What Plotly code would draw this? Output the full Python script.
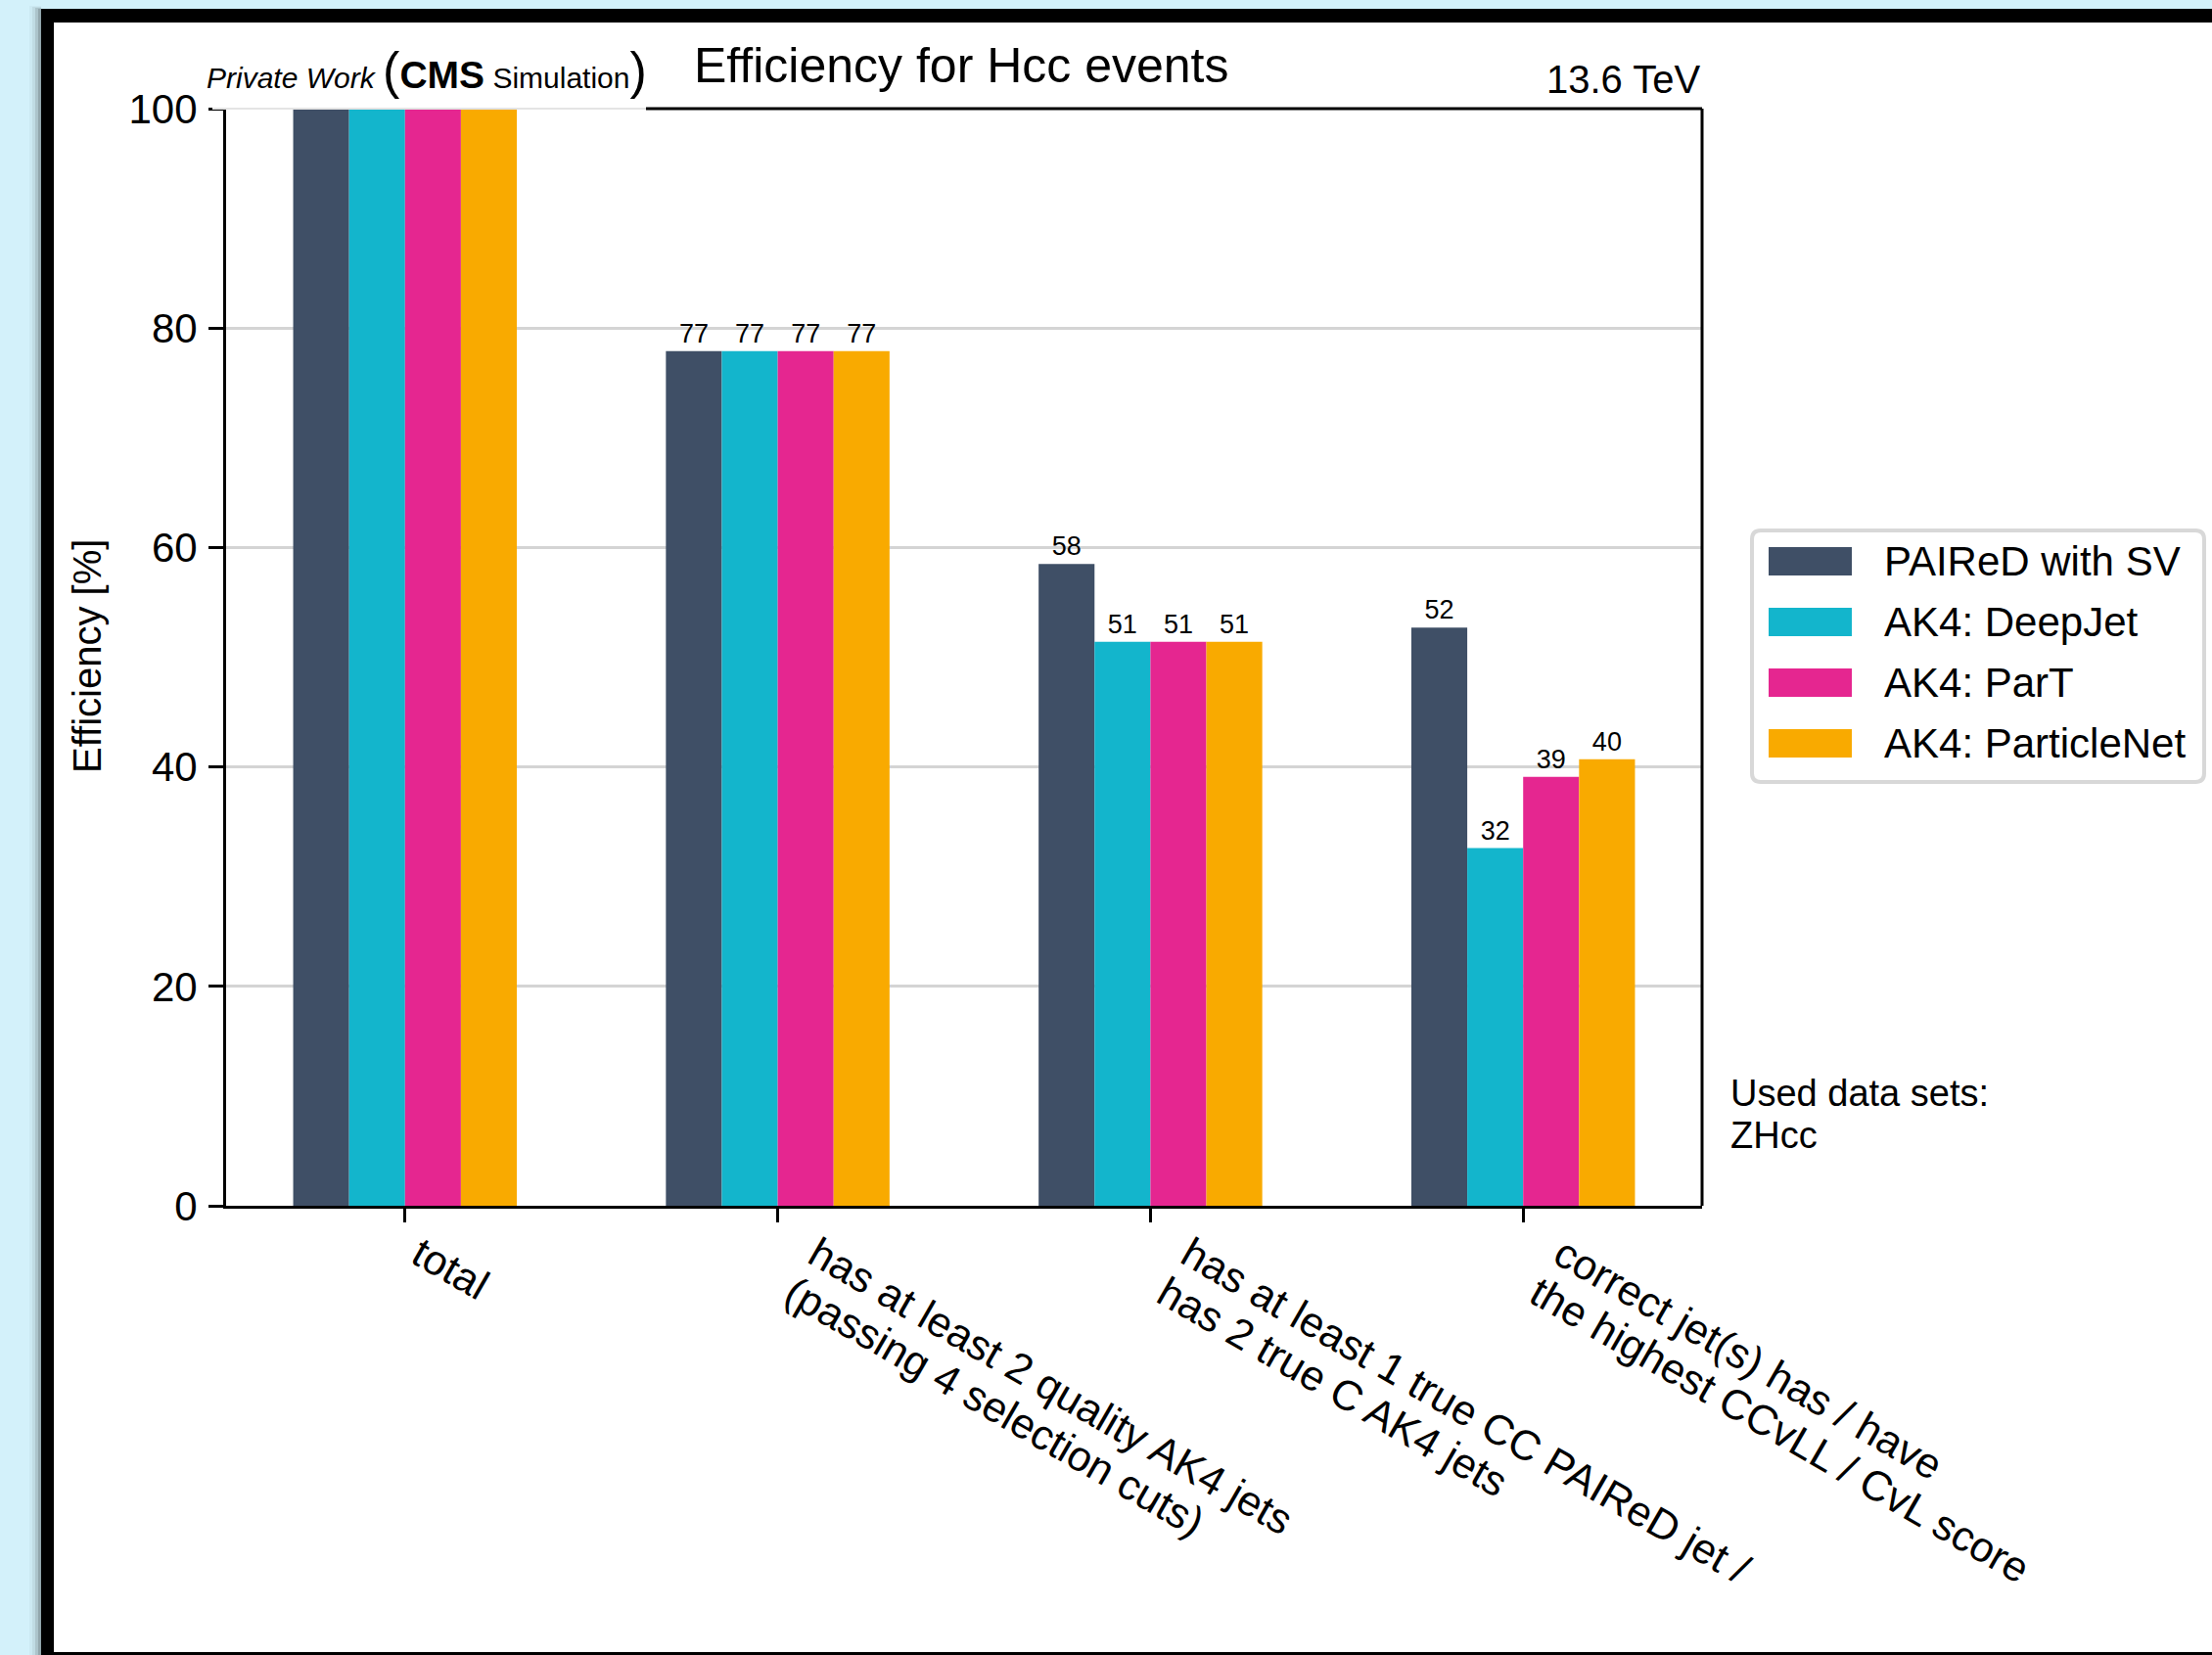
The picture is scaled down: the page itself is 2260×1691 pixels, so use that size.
import plotly.graph_objects as go

# ---- data -------------------------------------------------------------
categories = [
    "total",
    "has at least 2 quality AK4 jets\n(passing 4 selection cuts)",
    "has at least 1 true CC PAIReD jet /\nhas 2 true C AK4 jets",
    "correct jet(s) has / have\nthe highest CCvLL / CvL score",
]
series_names = ["PAIReD with SV", "AK4: DeepJet", "AK4: ParT", "AK4: ParticleNet"]
paired_sv = [100.0, 77.9, 58.5, 52.7]
ak4_deepjet = [100.0, 77.9, 51.4, 32.6]
ak4_part = [100.0, 77.9, 51.4, 39.1]
ak4_particlenet = [100.0, 77.9, 51.4, 40.7]
y_ticks = [0, 20, 40, 60, 80, 100]

series_values = [paired_sv, ak4_deepjet, ak4_part, ak4_particlenet]
colors = ["#3f4f66", "#13b5cc", "#e52690", "#f9aa00"]

FONT = "Liberation Sans, Arial, Helvetica, sans-serif"

# plot-area geometry in pixels
W, H = 2260, 1691
L, R, T, B = 231, 1739, 111, 1232


def px(xp):
    return (xp - L) / (R - L)


def py(yp):
    return (B - yp) / (B - T)


def bar_label(v):
    # efficiencies are printed truncated; the 100 % bars carry no label
    return str(int(v)) if v < 100 else ""


x_pos = list(range(len(categories)))

fig = go.Figure()
for name, vals, col in zip(series_names, series_values, colors):
    fig.add_trace(go.Bar(
        x=x_pos, y=vals, name=name,
        marker=dict(color=col, line=dict(width=0)),
        text=[bar_label(v) for v in vals], textposition="outside",
        textfont=dict(size=27, color="black", family=FONT),
        constraintext="none", cliponaxis=False,
    ))

shapes = []
# window frame: black border and white card
shapes.append(dict(type="rect", xref="paper", yref="paper", layer="below",
                   x0=px(42), x1=px(2300), y0=py(1720), y1=py(9),
                   fillcolor="black", line=dict(width=0)))
shapes.append(dict(type="rect", xref="paper", yref="paper", layer="below",
                   x0=px(55), x1=px(2300), y0=py(1688), y1=py(23),
                   fillcolor="white", line=dict(width=0)))
# soft shadow left of / above the frame
for i, a in enumerate([0.03, 0.06, 0.10, 0.15]):
    shapes.append(dict(type="rect", xref="paper", yref="paper", layer="below",
                       x0=px(30 + 3 * i), x1=px(42), y0=py(1720), y1=py(6 + i),
                       fillcolor=f"rgba(0,0,0,{a})", line=dict(width=0)))

# right and (partial) top spines
shapes.append(dict(type="line", xref="paper", yref="paper", x0=1, x1=1, y0=0, y1=1,
                   line=dict(color="black", width=3)))
shapes.append(dict(type="line", xref="paper", yref="paper", x0=px(660), x1=1, y0=1, y1=1,
                   line=dict(color="black", width=3)))
shapes.append(dict(type="line", xref="paper", yref="paper", x0=px(217), x1=px(660), y0=1, y1=1,
                   line=dict(color="#e4e4e4", width=2)))


# legend box
def rounded_rect(x0, y0, x1, y1, r):
    pts = [
        ("M", [(x0 + r, y0)]), ("L", [(x1 - r, y0)]), ("Q", [(x1, y0), (x1, y0 + r)]),
        ("L", [(x1, y1 - r)]), ("Q", [(x1, y1), (x1 - r, y1)]), ("L", [(x0 + r, y1)]),
        ("Q", [(x0, y1), (x0, y1 - r)]), ("L", [(x0, y0 + r)]), ("Q", [(x0, y0), (x0 + r, y0)]),
    ]
    s = ""
    for cmd, coords in pts:
        s += cmd + " " + " ".join(f"{px(a):.5f},{py(b):.5f}" for a, b in coords) + " "
    return s + "Z"


shapes.append(dict(type="path", xref="paper", yref="paper",
                   path=rounded_rect(1790, 542, 2252, 799, 9),
                   fillcolor="white", line=dict(color="#d8d8d8", width=4)))
row_y = [573.5, 635.5, 697.5, 759.5]
annotations = []
for name, col, yc in zip(series_names, colors, row_y):
    shapes.append(dict(type="rect", xref="paper", yref="paper",
                       x0=px(1807), x1=px(1892), y0=py(yc + 14.5), y1=py(yc - 14.5),
                       fillcolor=col, line=dict(width=0)))
    annotations.append(dict(xref="paper", yref="paper", x=px(1923), y=py(yc),
                            xanchor="left", yanchor="middle", showarrow=False,
                            text=name, font=dict(size=42, family=FONT, color="black")))

# rotated category labels: one annotation per line, the block's lower-left
# corner sits at the tick, lines stacked perpendicular to the 30 deg text
for xi, cat in zip(x_pos, categories):
    lines = cat.split("\n")
    n = len(lines)
    for j, line in enumerate(lines):
        annotations.append(dict(
            xref="x", yref="paper", x=xi, y=0, xanchor="left", yanchor="top",
            xshift=-3 + (n - 1 - j) * 24, yshift=-(20 + j * 40),
            textangle=30, showarrow=False, text=line,
            font=dict(size=43, family=FONT, color="black")))

# header texts
annotations.append(dict(
    xref="paper", yref="paper", x=px(209), y=py(72), xanchor="left", yanchor="middle",
    showarrow=False,
    text=("<i>Private Work</i> <span style='font-size:52px'>(</span>"
          "<b><span style='font-size:39px'>CMS</span></b> Simulation"
          "<span style='font-size:52px'>)</span>"),
    font=dict(size=30, family=FONT, color="black")))
annotations.append(dict(xref="paper", yref="paper", x=px(707), y=py(67),
                        xanchor="left", yanchor="middle", showarrow=False,
                        text="Efficiency for Hcc events",
                        font=dict(size=50, family=FONT, color="black")))
annotations.append(dict(xref="paper", yref="paper", x=1, y=py(81),
                        xanchor="right", yanchor="middle", showarrow=False,
                        text="13.6 TeV", font=dict(size=40, family=FONT, color="black")))
# y-axis title
annotations.append(dict(xref="paper", yref="paper", x=px(89), y=py(671),
                        xanchor="center", yanchor="middle", showarrow=False, textangle=-90,
                        text="Efficiency [%]", font=dict(size=40, family=FONT, color="black")))
# data set note
annotations.append(dict(xref="paper", yref="paper", x=px(1766), y=py(1117),
                        xanchor="left", yanchor="middle", showarrow=False,
                        text="Used data sets:", font=dict(size=38, family=FONT, color="black")))
annotations.append(dict(xref="paper", yref="paper", x=px(1766), y=py(1160),
                        xanchor="left", yanchor="middle", showarrow=False,
                        text="ZHcc", font=dict(size=38, family=FONT, color="black")))

fig.update_layout(
    width=W, height=H,
    margin=dict(l=L, r=W - R, t=T, b=H - B, pad=0),
    paper_bgcolor="#d3f1fa", plot_bgcolor="rgba(0,0,0,0)",
    barmode="group", bargap=0.4, bargroupgap=0,
    showlegend=False,
    font=dict(family=FONT, color="black"),
    shapes=shapes, annotations=annotations,
    xaxis=dict(
        range=[-0.48, 3.48], tickmode="array", tickvals=x_pos,
        showticklabels=False, ticks="outside", ticklen=14, tickwidth=2.5,
        tickcolor="black", showline=True, linecolor="black", linewidth=3,
        showgrid=False, zeroline=False, automargin=False,
    ),
    yaxis=dict(
        range=[0, 100], tickmode="array", tickvals=y_ticks, ticks="outside", ticklen=15,
        tickwidth=2.5, tickcolor="black", showline=True, linecolor="black", linewidth=3,
        showgrid=True, gridcolor="#d4d4d4", gridwidth=3, zeroline=False,
        tickfont=dict(size=42, family=FONT, color="black"), automargin=False,
        ticklabelstandoff=3,
    ),
)

fig.write_html("out.html")
